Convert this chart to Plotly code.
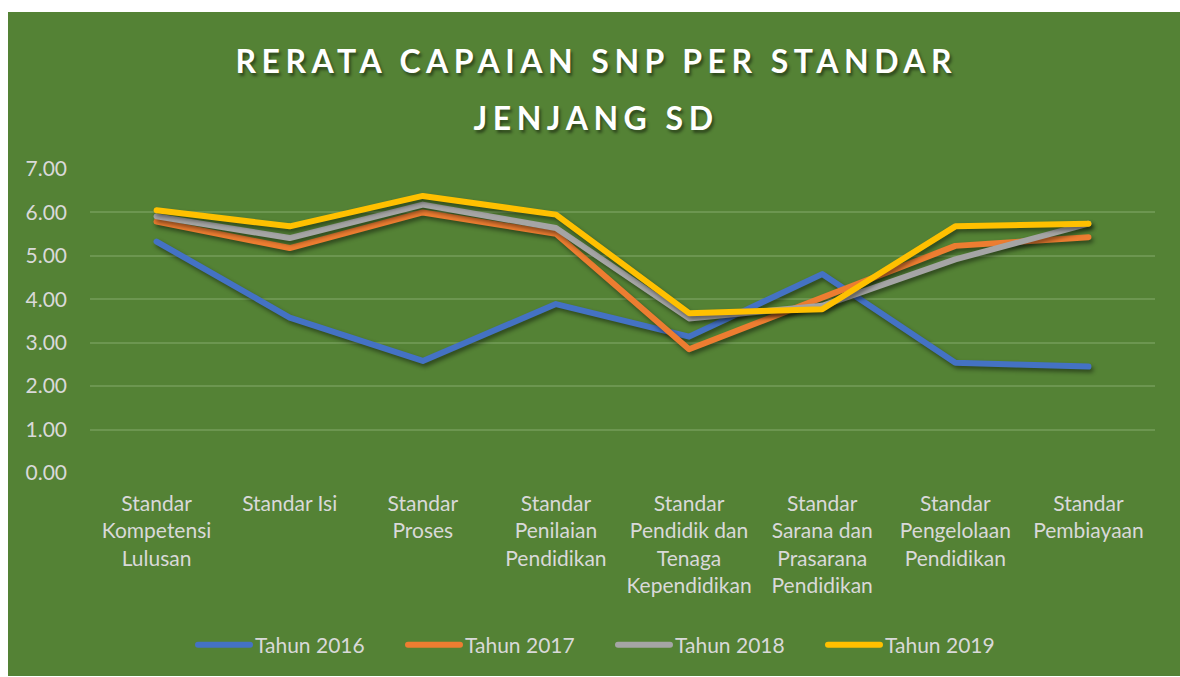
import plotly.graph_objects as go

# ── Data ──────────────────────────────────────────────────────────────────────

categories = [
    "Standar<br>Kompetensi<br>Lulusan",
    "Standar Isi",
    "Standar<br>Proses",
    "Standar<br>Penilaian<br>Pendidikan",
    "Standar<br>Pendidik dan<br>Tenaga<br>Kependidikan",
    "Standar<br>Sarana dan<br>Prasarana<br>Pendidikan",
    "Standar<br>Pengelolaan<br>Pendidikan",
    "Standar<br>Pembiayaan",
]

tahun_2016 = [5.33, 3.58, 2.58, 3.89, 3.14, 4.58, 2.54, 2.45]
tahun_2017 = [5.79, 5.18, 6.00, 5.51, 2.85, 4.05, 5.23, 5.43]
tahun_2018 = [5.91, 5.41, 6.18, 5.64, 3.56, 3.85, 4.92, 5.74]
tahun_2019 = [6.05, 5.68, 6.38, 5.95, 3.68, 3.77, 5.68, 5.74]

y_ticks = [0, 1, 2, 3, 4, 5, 6, 7]

title_lines = ["RERATA CAPAIAN SNP PER STANDAR", "JENJANG SD"]

# ── Style ─────────────────────────────────────────────────────────────────────

C_BG    = "#548235"
C_GRID  = "#6c9650"
C_TEXT  = "#d9d9d9"
FONT    = "Lato, sans-serif"

series = [
    ("Tahun 2016", tahun_2016, "#4472C4"),
    ("Tahun 2017", tahun_2017, "#ED7D31"),
    ("Tahun 2018", tahun_2018, "#A5A5A5"),
    ("Tahun 2019", tahun_2019, "#FFC000"),
]

W, H = 1180, 677
ML, MR, MT, MB = 90, 25, 169, 204
pw, ph = W - ML - MR, H - MT - MB


def px_x(x):
    return (x - ML) / pw


def px_y(y):
    return (H - MB - y) / ph


fig = go.Figure()
for name, vals, color in series:
    fig.add_trace(go.Scatter(
        x=list(range(len(categories))),
        y=vals,
        name=name,
        mode="lines",
        line=dict(color=color, width=6),
    ))

# green card with a thin white border on the top / left
fig.add_shape(
    type="rect", xref="paper", yref="paper", layer="below",
    x0=px_x(8), x1=px_x(W), y0=px_y(H - 1), y1=px_y(12),
    fillcolor=C_BG, line=dict(width=0),
)

# two-line title, spaced like the original
for text, yc in zip(title_lines, [61, 117]):
    fig.add_annotation(
        text=text, xref="paper", yref="paper",
        x=px_x(596), y=px_y(yc), xanchor="center", yanchor="middle",
        showarrow=False,
        font=dict(family=FONT, size=32, color="white", weight="bold",
                  shadow="2px 3px 3px rgba(0,0,0,0.45)"),
    )

fig.update_layout(
    width=W, height=H,
    margin=dict(l=ML, r=MR, t=MT, b=MB, autoexpand=False),
    paper_bgcolor="white",
    plot_bgcolor="rgba(0,0,0,0)",
    font=dict(family=FONT, color=C_TEXT, size=21),
    xaxis=dict(
        tickmode="array",
        tickvals=list(range(len(categories))),
        ticktext=categories,
        range=[-0.5, len(categories) - 0.5],
        showgrid=False, zeroline=False, showline=False,
        ticks="", ticklabelstandoff=16,
        tickfont=dict(size=21, color=C_TEXT),
    ),
    yaxis=dict(
        range=[0, 7],
        tickvals=y_ticks,
        tickformat=".2f",
        showgrid=True, gridcolor=C_GRID, gridwidth=1.5,
        zeroline=False, showline=False,
        ticks="", ticklabelstandoff=22,
        tickfont=dict(size=21, color=C_TEXT),
    ),
    legend=dict(
        orientation="h",
        x=px_x(193), xanchor="left",
        y=px_y(645), yanchor="middle",
        font=dict(size=21, color=C_TEXT),
        bgcolor="rgba(0,0,0,0)",
        entrywidth=165, entrywidthmode="pixels",
        traceorder="normal",
    ),
    showlegend=True,
)

# page / svg touches: no body margin, letter-spaced title, soft line shadow,
# round caps and longer legend swatches like the office chart
post = """
document.body.style.margin = '0';
document.querySelectorAll('.annotation-text').forEach(function (t) {
    t.style.letterSpacing = '5.5px';
});
document.querySelectorAll('.scatterlayer .trace').forEach(function (g) {
    g.style.filter = 'drop-shadow(2px 3px 2px rgba(0,0,0,0.45))';
});
document.querySelectorAll('.scatterlayer .js-line').forEach(function (p) {
    p.style.strokeLinecap = 'round';
    p.style.strokeLinejoin = 'round';
});
document.querySelectorAll('.legend .legendlines path').forEach(function (p) {
    p.setAttribute('d', 'M5,0h52');
    p.style.strokeLinecap = 'round';
});
document.querySelectorAll('.legend .legendtext').forEach(function (t) {
    t.setAttribute('x', '62');
});
"""

fig.write_html("out.html", post_script=post,
               config={"displayModeBar": False})
